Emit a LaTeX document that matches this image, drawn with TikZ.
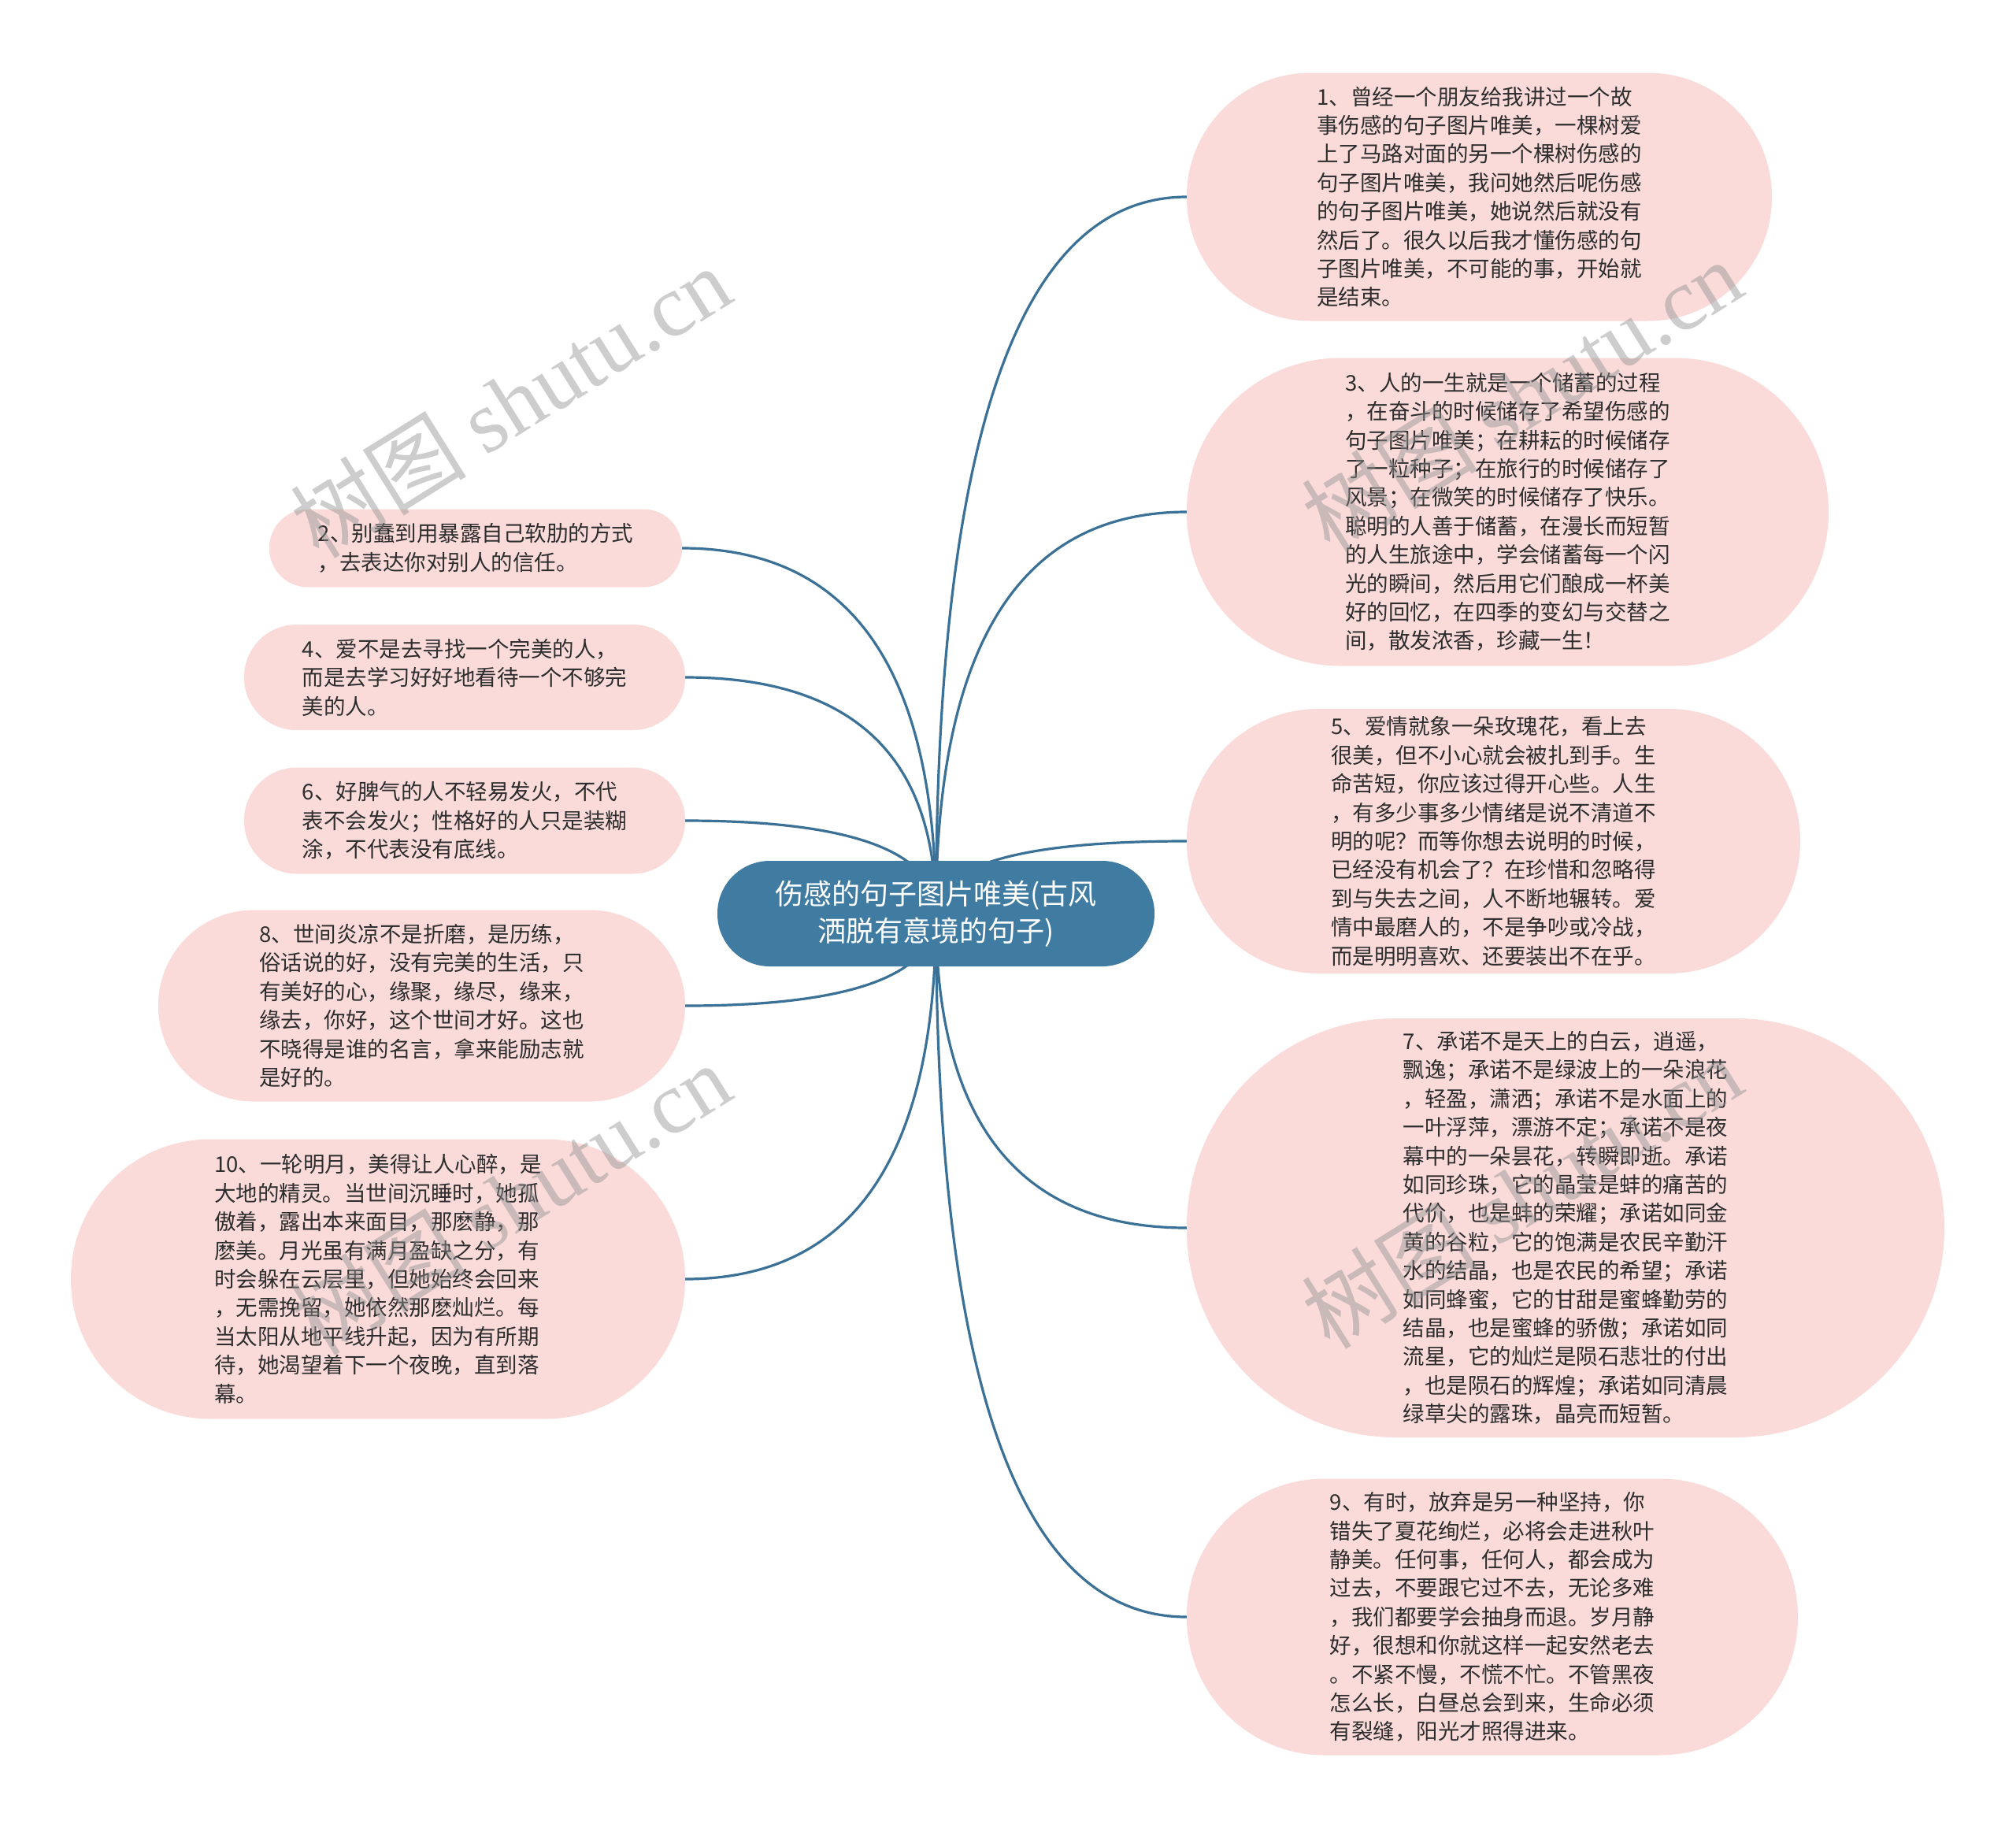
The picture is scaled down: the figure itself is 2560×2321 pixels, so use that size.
\documentclass[tikz,border=0pt]{standalone}
\usepackage{fontspec}
\setmainfont{Noto Sans CJK SC}
\newfontfamily\wmlatin{Liberation Serif}
\usetikzlibrary{calc,backgrounds}
\definecolor{leafc}{RGB}{250,219,218}
\definecolor{rootc}{RGB}{64,123,162}
\definecolor{linec}{RGB}{59,113,151}
\definecolor{txtc}{RGB}{45,45,45}
\definecolor{wmc}{RGB}{145,145,145}
\tikzset{
  leafbox/.style={fill=leafc, text=txtc, align=left, inner sep=0pt,
    font=\fontsize{27.5}{36.4}\selectfont},
  rootbox/.style={fill=rootc, text=white, align=center, inner sep=0pt,
    minimum width=555pt, minimum height=134pt, rounded corners=66.5pt,
    font=\fontsize{36}{47}\selectfont},
  conn/.style={draw=linec, line width=3.2pt},
  wmark/.style={text=wmc, opacity=0.45, rotate=32, inner sep=0pt,
    font=\fontsize{112}{116}\selectfont}
}
\newcommand\linkR[1]{%
  \coordinate (k#1) at (root.center |- #1.west);
  \draw[conn] (root.center) .. controls ($(root.center)!0.6667!(k#1)$) and ($(#1.west)!0.6667!(k#1)$) .. (#1.west);}
\newcommand\linkL[1]{%
  \coordinate (k#1) at (root.center |- #1.east);
  \draw[conn] (root.center) .. controls ($(root.center)!0.6667!(k#1)$) and ($(#1.east)!0.6667!(k#1)$) .. (#1.east);}
\begin{document}
\begin{tikzpicture}[x=1pt,y=-1pt]
\useasboundingbox (0,0) rectangle (2560,2321);

\node[rootbox] (root) at (1188.5,1160) {伤感的句子图片唯美(古风\\洒脱有意境的句子)};

% right side
\node[leafbox, minimum width=743pt, minimum height=315pt, rounded corners=157pt] (n1) at (1878.5,250) {1、曾经一个朋友给我讲过一个故\\
事伤感的句子图片唯美，一棵树爱\\
上了马路对面的另一个棵树伤感的\\
句子图片唯美，我问她然后呢伤感\\
的句子图片唯美，她说然后就没有\\
然后了。很久以后我才懂伤感的句\\
子图片唯美，不可能的事，开始就\\
是结束。};

\node[leafbox, minimum width=815pt, minimum height=391pt, rounded corners=195pt] (n3) at (1914.5,650) {3、人的一生就是一个储蓄的过程\\
，在奋斗的时候储存了希望伤感的\\
句子图片唯美；在耕耘的时候储存\\
了一粒种子；在旅行的时候储存了\\
风景；在微笑的时候储存了快乐。\\
聪明的人善于储蓄，在漫长而短暂\\
的人生旅途中，学会储蓄每一个闪\\
光的瞬间，然后用它们酿成一杯美\\
好的回忆，在四季的变幻与交替之\\
间，散发浓香，珍藏一生！};

\node[leafbox, minimum width=779pt, minimum height=336pt, rounded corners=167.5pt] (n5) at (1896.5,1068) {5、爱情就象一朵玫瑰花，看上去\\
很美，但不小心就会被扎到手。生\\
命苦短，你应该过得开心些。人生\\
，有多少事多少情绪是说不清道不\\
明的呢？而等你想去说明的时候，\\
已经没有机会了？在珍惜和忽略得\\
到与失去之间，人不断地辗转。爱\\
情中最磨人的，不是争吵或冷战，\\
而是明明喜欢、还要装出不在乎。};

\node[leafbox, minimum width=962pt, minimum height=532pt, rounded corners=265.5pt] (n7) at (1988,1559) {7、承诺不是天上的白云，逍遥，\\
飘逸；承诺不是绿波上的一朵浪花\\
，轻盈，潇洒；承诺不是水面上的\\
一叶浮萍，漂游不定；承诺不是夜\\
幕中的一朵昙花，转瞬即逝。承诺\\
如同珍珠，它的晶莹是蚌的痛苦的\\
代价，也是蚌的荣耀；承诺如同金\\
黄的谷粒，它的饱满是农民辛勤汗\\
水的结晶，也是农民的希望；承诺\\
如同蜂蜜，它的甘甜是蜜蜂勤劳的\\
结晶，也是蜜蜂的骄傲；承诺如同\\
流星，它的灿烂是陨石悲壮的付出\\
，也是陨石的辉煌；承诺如同清晨\\
绿草尖的露珠，晶亮而短暂。};

\node[leafbox, minimum width=776pt, minimum height=351pt, rounded corners=175pt] (n9) at (1895,2053) {9、有时，放弃是另一种坚持，你\\
错失了夏花绚烂，必将会走进秋叶\\
静美。任何事，任何人，都会成为\\
过去，不要跟它过不去，无论多难\\
，我们都要学会抽身而退。岁月静\\
好，很想和你就这样一起安然老去\\
。不紧不慢，不慌不忙。不管黑夜\\
怎么长，白昼总会到来，生命必须\\
有裂缝，阳光才照得进来。};

% left side
\node[leafbox, minimum width=524pt, minimum height=99pt, rounded corners=49pt] (n2) at (604,696) {2、别蠢到用暴露自己软肋的方式\\
，去表达你对别人的信任。};

\node[leafbox, minimum width=560pt, minimum height=134pt, rounded corners=66.5pt] (n4) at (590,860) {4、爱不是去寻找一个完美的人，\\
而是去学习好好地看待一个不够完\\
美的人。};

\node[leafbox, minimum width=560pt, minimum height=135pt, rounded corners=67pt] (n6) at (590,1042) {6、好脾气的人不轻易发火，不代\\
表不会发火；性格好的人只是装糊\\
涂，不代表没有底线。};

\node[leafbox, minimum width=669pt, minimum height=243pt, rounded corners=121pt] (n8) at (535.5,1277) {8、世间炎凉不是折磨，是历练，\\
俗话说的好，没有完美的生活，只\\
有美好的心，缘聚，缘尽，缘来，\\
缘去，你好，这个世间才好。这也\\
不晓得是谁的名言，拿来能励志就\\
是好的。};

\node[leafbox, minimum width=780pt, minimum height=355pt, rounded corners=177pt] (n10) at (480,1624) {10、一轮明月，美得让人心醉，是\\
大地的精灵。当世间沉睡时，她孤\\
傲着，露出本来面目，那麽静，那\\
麽美。月光虽有满月盈缺之分，有\\
时会躲在云层里，但她始终会回来\\
，无需挽留，她依然那麽灿烂。每\\
当太阳从地平线升起，因为有所期\\
待，她渴望着下一个夜晚，直到落\\
幕。};

\begin{scope}[on background layer]
\fill[white] (0,0) rectangle (2560,2321);
\linkR{n1}
\linkR{n3}
\linkR{n5}
\linkR{n7}
\linkR{n9}
\linkL{n2}
\linkL{n4}
\linkL{n6}
\linkL{n8}
\linkL{n10}
\end{scope}

% watermarks
\node[wmark] (wm1) at (648,510) {树图 {\wmlatin shutu.cn}};
\node[wmark] (wm2) at (1932,502) {树图 {\wmlatin shutu.cn}};
\node[wmark] (wm3) at (648,1522) {树图 {\wmlatin shutu.cn}};
\node[wmark] (wm4) at (1932,1514) {树图 {\wmlatin shutu.cn}};
\end{tikzpicture}
\end{document}
